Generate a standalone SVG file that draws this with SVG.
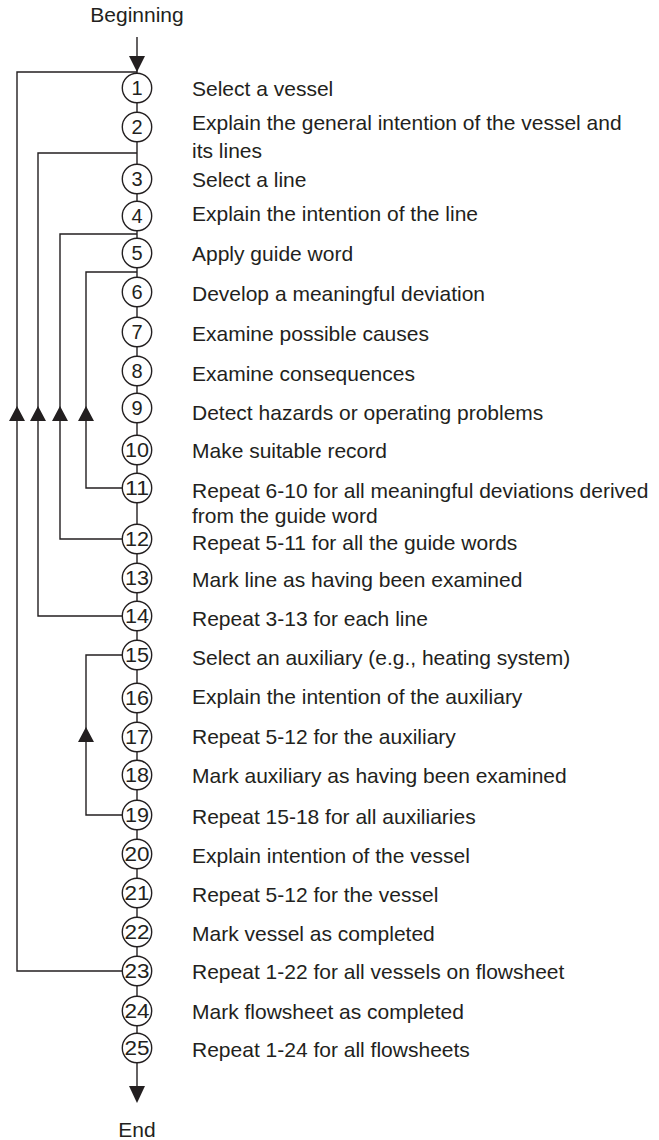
<svg xmlns="http://www.w3.org/2000/svg" width="659" height="1140" viewBox="0 0 659 1140">
<defs>
<style>
.ln{stroke:#231f20;stroke-width:1.4;fill:none}
.c{fill:#fff;stroke:#231f20;stroke-width:1.4}
.n{font-family:"Liberation Sans",Arial,sans-serif;font-size:20px;fill:#231f20;text-anchor:middle}
.t{font-family:"Liberation Sans",Arial,sans-serif;font-size:21px;fill:#231f20}
.ah{fill:#231f20}
</style>
</defs>
<rect width="659" height="1140" fill="#fff"/>
<g id="connectors">
<line class="ln" x1="137" y1="37" x2="137" y2="1063"/>
<line class="ln" x1="137" y1="1063" x2="137" y2="1090"/>
<polygon class="ah" points="129,56 145,56 137,72"/>
<polygon class="ah" points="129,1086 145,1086 137,1103"/>
<polyline class="ln" points="122.5,971 17,971 17,72 137,72"/>
<polyline class="ln" points="122.5,616 38,616 38,153 137,153"/>
<polyline class="ln" points="122.5,539 60,539 60,234 137,234"/>
<polyline class="ln" points="122.5,488 86,488 86,272 137,272"/>
<polyline class="ln" points="122.5,815 86,815 86,655 122.5,655"/>
<polygon class="ah" points="9,421 25,421 17,406"/>
<polygon class="ah" points="30,421 46,421 38,406"/>
<polygon class="ah" points="52,421 68,421 60,406"/>
<polygon class="ah" points="78,421 94,421 86,406"/>
<polygon class="ah" points="78,742 94,742 86,727"/>
</g>
<g id="begin"><text class="t" x="137" y="22" text-anchor="middle">Beginning</text></g>
<g id="end"><text class="t" x="137" y="1137" text-anchor="middle">End</text></g>
<g id="n1"><circle class="c" cx="137" cy="88" r="14.7"/><text class="n" x="137" y="95">1</text><text class="t" x="192" y="96">Select a vessel</text></g>
<g id="n2"><circle class="c" cx="137" cy="127" r="14.7"/><text class="n" x="137" y="134">2</text><text class="t" x="192" y="130">Explain the general intention of the vessel and</text><text class="t" x="192" y="158">its lines</text></g>
<g id="n3"><circle class="c" cx="137" cy="179" r="14.7"/><text class="n" x="137" y="186">3</text><text class="t" x="192" y="187">Select a line</text></g>
<g id="n4"><circle class="c" cx="137" cy="216" r="14.7"/><text class="n" x="137" y="223">4</text><text class="t" x="192" y="221">Explain the intention of the line</text></g>
<g id="n5"><circle class="c" cx="137" cy="253" r="14.7"/><text class="n" x="137" y="260">5</text><text class="t" x="192" y="261">Apply guide word</text></g>
<g id="n6"><circle class="c" cx="137" cy="292" r="14.7"/><text class="n" x="137" y="299">6</text><text class="t" x="192" y="301">Develop a meaningful deviation</text></g>
<g id="n7"><circle class="c" cx="137" cy="332" r="14.7"/><text class="n" x="137" y="339">7</text><text class="t" x="192" y="341">Examine possible causes</text></g>
<g id="n8"><circle class="c" cx="137" cy="371" r="14.7"/><text class="n" x="137" y="378">8</text><text class="t" x="192" y="381">Examine consequences</text></g>
<g id="n9"><circle class="c" cx="137" cy="408" r="14.7"/><text class="n" x="137" y="415">9</text><text class="t" x="192" y="420">Detect hazards or operating problems</text></g>
<g id="n10"><circle class="c" cx="137" cy="450" r="14.7"/><text class="n" x="137" y="457" textLength="24" lengthAdjust="spacingAndGlyphs">10</text><text class="t" x="192" y="458">Make suitable record</text></g>
<g id="n11"><circle class="c" cx="137" cy="488" r="14.7"/><text class="n" x="137" y="495" textLength="24" lengthAdjust="spacingAndGlyphs">11</text><text class="t" x="192" y="498">Repeat 6-10 for all meaningful deviations derived</text><text class="t" x="192" y="523">from the guide word</text></g>
<g id="n12"><circle class="c" cx="137" cy="539" r="14.7"/><text class="n" x="137" y="546" textLength="24" lengthAdjust="spacingAndGlyphs">12</text><text class="t" x="192" y="550">Repeat 5-11 for all the guide words</text></g>
<g id="n13"><circle class="c" cx="137" cy="578" r="14.7"/><text class="n" x="137" y="585" textLength="24" lengthAdjust="spacingAndGlyphs">13</text><text class="t" x="192" y="587">Mark line as having been examined</text></g>
<g id="n14"><circle class="c" cx="137" cy="616" r="14.7"/><text class="n" x="137" y="623" textLength="24" lengthAdjust="spacingAndGlyphs">14</text><text class="t" x="192" y="626">Repeat 3-13 for each line</text></g>
<g id="n15"><circle class="c" cx="137" cy="655" r="14.7"/><text class="n" x="137" y="662" textLength="24" lengthAdjust="spacingAndGlyphs">15</text><text class="t" x="192" y="665">Select an auxiliary (e.g., heating system)</text></g>
<g id="n16"><circle class="c" cx="137" cy="698" r="14.7"/><text class="n" x="137" y="705" textLength="24" lengthAdjust="spacingAndGlyphs">16</text><text class="t" x="192" y="704">Explain the intention of the auxiliary</text></g>
<g id="n17"><circle class="c" cx="137" cy="737" r="14.7"/><text class="n" x="137" y="744" textLength="24" lengthAdjust="spacingAndGlyphs">17</text><text class="t" x="192" y="744">Repeat 5-12 for the auxiliary</text></g>
<g id="n18"><circle class="c" cx="137" cy="775" r="14.7"/><text class="n" x="137" y="782" textLength="24" lengthAdjust="spacingAndGlyphs">18</text><text class="t" x="192" y="783">Mark auxiliary as having been examined</text></g>
<g id="n19"><circle class="c" cx="137" cy="815" r="14.7"/><text class="n" x="137" y="822" textLength="24" lengthAdjust="spacingAndGlyphs">19</text><text class="t" x="192" y="824">Repeat 15-18 for all auxiliaries</text></g>
<g id="n20"><circle class="c" cx="137" cy="854" r="14.7"/><text class="n" x="137" y="861" textLength="25" lengthAdjust="spacingAndGlyphs">20</text><text class="t" x="192" y="863">Explain intention of the vessel</text></g>
<g id="n21"><circle class="c" cx="137" cy="893" r="14.7"/><text class="n" x="137" y="900" textLength="25" lengthAdjust="spacingAndGlyphs">21</text><text class="t" x="192" y="902">Repeat 5-12 for the vessel</text></g>
<g id="n22"><circle class="c" cx="137" cy="932" r="14.7"/><text class="n" x="137" y="939" textLength="25" lengthAdjust="spacingAndGlyphs">22</text><text class="t" x="192" y="941">Mark vessel as completed</text></g>
<g id="n23"><circle class="c" cx="137" cy="971" r="14.7"/><text class="n" x="137" y="978" textLength="25" lengthAdjust="spacingAndGlyphs">23</text><text class="t" x="192" y="979">Repeat 1-22 for all vessels on flowsheet</text></g>
<g id="n24"><circle class="c" cx="137" cy="1011" r="14.7"/><text class="n" x="137" y="1018" textLength="25" lengthAdjust="spacingAndGlyphs">24</text><text class="t" x="192" y="1019">Mark flowsheet as completed</text></g>
<g id="n25"><circle class="c" cx="137" cy="1048" r="14.7"/><text class="n" x="137" y="1055" textLength="25" lengthAdjust="spacingAndGlyphs">25</text><text class="t" x="192" y="1057">Repeat 1-24 for all flowsheets</text></g>
</svg>
